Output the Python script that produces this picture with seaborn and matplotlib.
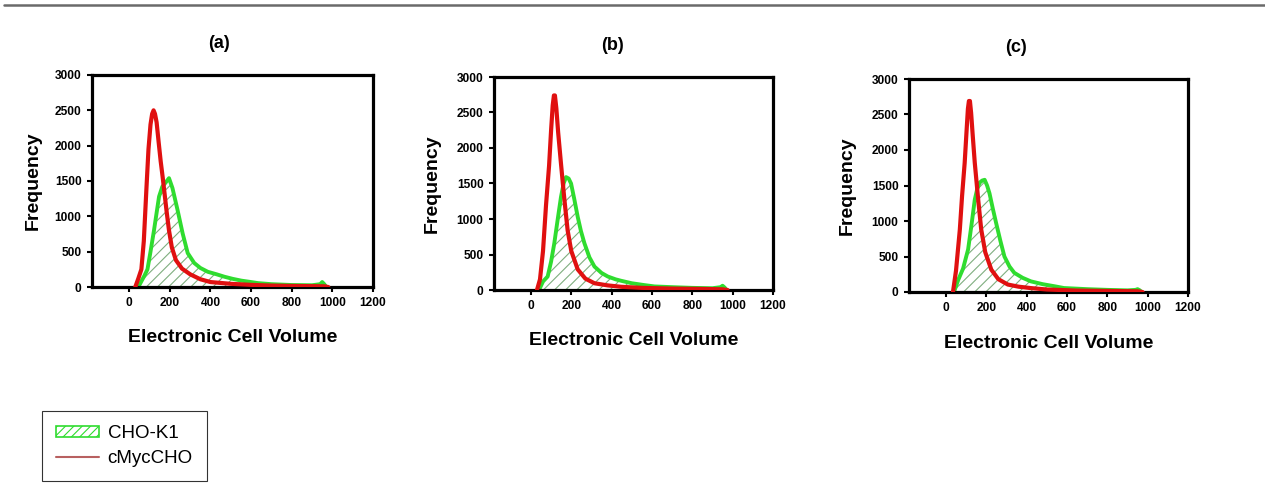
import matplotlib
matplotlib.use("Agg")
import matplotlib.pyplot as plt
import seaborn as sns
import numpy as np
from matplotlib.patches import Patch
from matplotlib.lines import Line2D

# ---------------- data ----------------
panel_titles = ["(a)", "(b)", "(c)"]
series_names = ["CHO-K1", "cMycCHO"]
x_ticks = [0, 200, 400, 600, 800, 1000, 1200]
y_ticks = [0, 500, 1000, 1500, 2000, 2500, 3000]

# panel (a)
cho_a_x = [45, 60, 75, 90, 105, 122, 135, 147, 163, 180, 196, 213, 238, 263, 288, 320, 350, 387, 430, 469, 510, 552, 600, 634, 700, 800, 900, 940, 950, 960, 970]
cho_a_y = [0, 80, 160, 250, 500, 800, 1050, 1280, 1420, 1480, 1540, 1400, 1090, 760, 480, 340, 270, 215, 180, 145, 115, 90, 70, 55, 40, 28, 25, 40, 70, 40, 0]
myc_a_x = [30, 45, 60, 72, 85, 95, 105, 113, 120, 127, 135, 145, 155, 165, 175, 185, 196, 210, 230, 260, 300, 350, 400, 500, 600, 700, 800, 900, 960, 980]
myc_a_y = [0, 120, 250, 650, 1400, 1950, 2300, 2450, 2500, 2450, 2330, 2050, 1780, 1550, 1300, 1050, 800, 560, 380, 260, 180, 110, 70, 45, 30, 20, 15, 12, 10, 0]

# panel (b)
cho_b_x = [40, 60, 83, 100, 116, 133, 149, 162, 174, 187, 199, 215, 232, 248, 265, 290, 315, 350, 381, 420, 447, 500, 560, 613, 700, 800, 900, 940, 950, 960, 970]
cho_b_y = [0, 120, 190, 400, 660, 1000, 1310, 1500, 1590, 1570, 1500, 1280, 1030, 830, 660, 460, 330, 240, 190, 150, 130, 95, 70, 50, 40, 30, 25, 40, 60, 35, 0]
myc_b_x = [30, 45, 60, 75, 90, 100, 108, 114, 119, 126, 135, 149, 165, 182, 200, 232, 270, 315, 380, 447, 550, 700, 850, 950, 975]
myc_b_y = [0, 150, 550, 1200, 1750, 2250, 2600, 2740, 2740, 2560, 2220, 1780, 1300, 840, 550, 290, 160, 95, 65, 45, 30, 20, 15, 10, 0]

# panel (c)
cho_c_x = [40, 61, 85, 110, 127, 143, 155, 167, 180, 192, 204, 216, 232, 249, 270, 290, 315, 339, 380, 421, 480, 540, 585, 700, 800, 900, 940, 950, 960, 970]
cho_c_y = [0, 170, 330, 600, 950, 1300, 1450, 1540, 1570, 1580, 1500, 1390, 1180, 970, 720, 500, 360, 270, 200, 150, 110, 80, 56, 40, 30, 23, 30, 40, 25, 0]
myc_c_x = [35, 50, 69, 80, 93, 103, 109, 114, 119, 125, 133, 143, 160, 175, 195, 225, 260, 307, 360, 421, 500, 650, 800, 950, 975]
myc_c_y = [0, 300, 880, 1350, 1820, 2300, 2580, 2690, 2690, 2520, 2200, 1820, 1300, 880, 560, 315, 180, 105, 75, 55, 35, 20, 15, 10, 0]

panels = [
    (cho_a_x, cho_a_y, myc_a_x, myc_a_y),
    (cho_b_x, cho_b_y, myc_b_x, myc_b_y),
    (cho_c_x, cho_c_y, myc_c_x, myc_c_y),
]

# ---------------- style ----------------
sns.set_theme(style="white")
plt.rcParams["font.family"] = ["Liberation Sans", "DejaVu Sans"]
plt.rcParams["hatch.linewidth"] = 0.8
for k in ["text.color", "axes.labelcolor", "xtick.color", "ytick.color", "axes.edgecolor"]:
    plt.rcParams[k] = "black"

GREEN = "#2fdc2f"
RED = "#e01010"
HATCH = "#7fae7f"

W, H = 1265, 498
fig = plt.figure(figsize=(W / 100, H / 100), dpi=100)

# axes boxes in pixels: left, top, right, bottom
boxes = [(92, 75, 373, 287), (494, 77, 773, 290), (909, 79, 1188, 292)]
title_pos = [(219, 44), (612, 46), (1016, 48)]
ylab_x = [33, 432, 847]
xlab_y = [338, 340, 343]


def fx(px):
    return px / W


def fy(py):
    return 1 - py / H


for i, (cx, cy, mx, my) in enumerate(panels):
    l, t, r, b = boxes[i]
    ax = fig.add_axes([fx(l), fy(b), (r - l) / W, (b - t) / H])
    ax.fill_between(cx, cy, 0, facecolor="white", edgecolor=HATCH,
                    hatch="///", linewidth=0, zorder=1)
    sns.lineplot(x=cx, y=cy, ax=ax, color=GREEN, linewidth=2.8, zorder=2)
    sns.lineplot(x=mx, y=my, ax=ax, color=RED, linewidth=3.0, zorder=3)
    ax.set_xlim(-183, 1200)
    ax.set_ylim(0, 3000)
    ax.set_xticks(x_ticks)
    ax.set_yticks(y_ticks)
    ax.set_xticklabels([str(v) for v in x_ticks], fontsize=8.6, fontweight="bold")
    ax.set_yticklabels([str(v) for v in y_ticks], fontsize=8.6, fontweight="bold")
    ax.tick_params(axis="both", direction="out", length=3.5, width=1.5,
                   color="black", pad=4, bottom=True, left=True)
    for s in ax.spines.values():
        s.set_visible(True)
        s.set_color("black")
        s.set_linewidth(2.3)
    ax.set_xlabel("")
    ax.set_ylabel("")
    ax.grid(False)

    cxm = (l + r) / 2
    cym = (t + b) / 2
    fig.text(fx(title_pos[i][0]), fy(title_pos[i][1]), panel_titles[i],
             ha="center", va="center", fontsize=13, fontweight="bold")
    fig.text(fx(ylab_x[i]), fy(cym), "Frequency", rotation=90,
             ha="center", va="center", fontsize=14, fontweight="bold")
    fig.text(fx(cxm), fy(xlab_y[i]), "Electronic Cell Volume",
             ha="center", va="center", fontsize=14, fontweight="bold")

# top rule
fig.add_artist(Line2D([fx(4), 1.0], [fy(5), fy(5)], transform=fig.transFigure,
                      color="#6a6a6a", linewidth=1.8))

# legend
handles = [
    Patch(facecolor="white", edgecolor=GREEN, hatch="////", linewidth=1.2),
    Line2D([], [], color="#b86060", linewidth=1.5),
]
leg = fig.legend(handles, series_names, loc="upper left",
                 bbox_to_anchor=(fx(42), fy(411)), bbox_transform=fig.transFigure,
                 fontsize=13.5, frameon=True, fancybox=False, edgecolor="black",
                 handlelength=2.3, handleheight=0.5, handletextpad=0.45,
                 labelspacing=0.4, borderpad=0.75, borderaxespad=0)
leg.get_frame().set_linewidth(0.8)

fig.savefig("out.png", dpi=100, facecolor="white")
